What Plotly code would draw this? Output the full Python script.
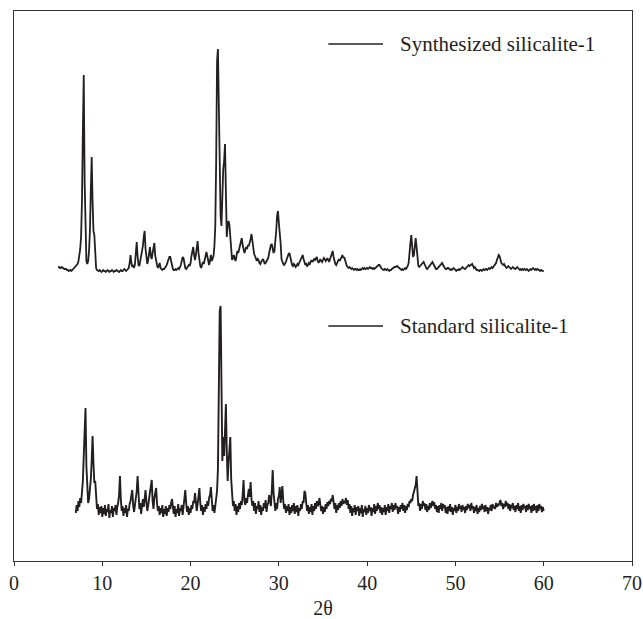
import numpy as np
import plotly.graph_objects as go

# 2-theta sampling (degrees)
synth_start, synth_step = 5.0, 0.1
std_start, std_step = 7.0, 0.1

# Synthesized silicalite-1 intensities (arbitrary units, offset pattern), 5.0 .. 60.0
synth_y = [
    294, 294, 293, 293, 294, 293, 293, 292, 292, 292,
    291, 291, 290, 291, 291, 290, 291, 292, 293, 295,
    295, 296, 297, 300, 305, 312, 325, 360, 430, 486,
    380, 315, 300, 297, 300, 310, 330, 370, 404, 360,
    330, 326, 300, 293, 291, 290, 290, 291, 290, 289,
    290, 291, 290, 290, 289, 290, 291, 290, 289, 290,
    290, 291, 290, 289, 290, 290, 291, 290, 290, 289,
    290, 291, 290, 290, 291, 292, 291, 290, 291, 292,
    293, 298, 306, 298, 294, 296, 293, 297, 305, 319,
    305, 296, 295, 300, 302, 306, 315, 325, 330, 312,
    300, 297, 301, 308, 314, 305, 302, 308, 315, 318,
    305, 299, 296, 293, 296, 298, 293, 292, 291, 292,
    292, 293, 294, 296, 299, 302, 304, 304, 299, 294,
    292, 291, 291, 292, 291, 292, 293, 292, 294, 296,
    300, 304, 303, 297, 293, 292, 293, 294, 296, 295,
    298, 305, 312, 314, 306, 301, 306, 315, 320, 308,
    298, 295, 293, 296, 299, 297, 300, 305, 309, 304,
    298, 296, 300, 306, 300, 303, 305, 315, 335, 400,
    500, 512, 440, 415, 345, 335, 375, 392, 400, 417,
    370, 324, 335, 340, 336, 325, 310, 301, 303, 306,
    302, 300, 305, 310, 308, 312, 318, 322, 323, 316,
    310, 308, 311, 314, 312, 316, 315, 318, 322, 327,
    318, 310, 307, 305, 303, 300, 302, 301, 298, 297,
    299, 301, 302, 300, 297, 298, 300, 301, 303, 308,
    313, 316, 317, 312, 308, 310, 318, 330, 345, 350,
    338, 330, 318, 302, 299, 297, 296, 297, 299, 302,
    305, 307, 308, 303, 298, 296, 295, 297, 296, 294,
    295, 297, 296, 298, 300, 302, 304, 306, 302, 298,
    296, 297, 295, 296, 298, 297, 299, 301, 299, 300,
    302, 301, 303, 304, 300, 298, 300, 302, 300, 299,
    301, 303, 302, 300, 301, 303, 301, 299, 302, 305,
    308, 310, 304, 298, 297, 296, 298, 301, 302, 300,
    302, 305, 306, 303, 304, 301, 297, 295, 294, 293,
    294, 293, 292, 293, 292, 291, 292, 292, 291, 292,
    291, 291, 292, 291, 292, 293, 292, 293, 292, 293,
    293, 292, 293, 294, 293, 293, 292, 293, 292, 293,
    293, 294, 295, 296, 296, 294, 293, 292, 291, 291,
    292, 291, 291, 292, 291, 290, 291, 291, 292, 293,
    293, 294, 294, 295, 295, 294, 293, 292, 292, 291,
    292, 291, 292, 293, 292, 293, 295, 298, 305, 318,
    326, 315, 304, 306, 316, 323, 314, 300, 295, 294,
    295, 296, 297, 298, 299, 297, 294, 293, 292, 293,
    294, 295, 296, 297, 299, 297, 295, 293, 292, 292,
    293, 294, 296, 297, 298, 298, 296, 294, 293, 292,
    292, 293, 293, 292, 291, 292, 291, 292, 293, 292,
    291, 290, 291, 291, 292, 291, 292, 293, 294, 293,
    292, 292, 293, 294, 295, 296, 295, 296, 297, 297,
    295, 293, 294, 292, 291, 291, 290, 290, 291, 291,
    290, 291, 292, 291, 292, 292, 291, 292, 293, 292,
    293, 294, 293, 294, 295, 296, 298, 301, 304, 306,
    305, 300, 298, 297, 296, 297, 295, 294, 293, 294,
    295, 294, 293, 292, 293, 294, 293, 292, 292, 293,
    294, 293, 292, 291, 292, 291, 292, 291, 292, 291,
    291, 292, 291, 290, 291, 292, 291, 292, 293, 292,
    291, 292, 291, 292, 291, 290, 290, 291, 290, 290,
    290,
]

# Standard silicalite-1 intensities (arbitrary units), 7.0 .. 60.0
std_y = [
    48, 56, 50, 60, 54, 63, 58, 70, 80, 105,
    125, 153, 95, 64, 58, 62, 70, 82, 100, 125,
    98, 78, 80, 60, 52, 57, 46, 54, 48, 55,
    44, 53, 47, 56, 45, 52, 49, 57, 43, 51,
    48, 55, 44, 53, 50, 56, 46, 54, 58, 66,
    85, 62, 50, 55, 45, 53, 48, 56, 44, 52,
    50, 57, 60, 66, 71, 55, 49, 56, 62, 70,
    85, 60, 52, 58, 47, 55, 62, 54, 66, 71,
    58, 50, 56, 62, 70, 78, 81, 60, 52, 63,
    68, 73, 58, 50, 55, 46, 53, 48, 56, 44,
    52, 47, 55, 45, 53, 49, 56, 52, 58, 62,
    54, 47, 55, 44, 52, 48, 57, 45, 53, 50,
    56, 46, 54, 60, 71, 58, 49, 55, 46, 53,
    48, 56, 52, 60, 58, 68, 55, 50, 57, 64,
    73, 58, 50, 56, 46, 54, 49, 57, 52, 60,
    55, 63, 66, 74, 58, 50, 56, 48, 55, 62,
    70, 92, 180, 250, 255, 170, 100, 124, 105, 130,
    157, 110, 80, 98, 115, 124, 82, 62, 55, 60,
    50, 57, 46, 55, 49, 58, 52, 60, 56, 66,
    81, 60, 56, 63, 58, 66, 72, 64, 79, 62,
    55, 60, 50, 58, 47, 55, 52, 60, 49, 56,
    46, 54, 50, 58, 53, 61, 49, 56, 58, 66,
    60, 55, 70, 91, 68, 56, 50, 58, 52, 62,
    65, 74, 58, 66, 75, 60, 52, 57, 48, 55,
    50, 57, 46, 54, 48, 56, 50, 58, 47, 55,
    49, 56, 45, 53, 50, 57, 52, 60, 58, 70,
    68, 58, 50, 56, 47, 54, 49, 57, 46, 55,
    50, 58, 52, 60, 55, 57, 63, 56, 50, 55,
    47, 54, 49, 57, 52, 59, 55, 60, 57, 62,
    60, 66, 56, 52, 58, 48, 56, 51, 58, 53,
    60, 55, 62, 57, 60, 58, 63, 56, 61, 52,
    57, 48, 55, 45, 53, 49, 56, 46, 54, 50,
    55, 45, 53, 48, 56, 44, 52, 49, 55, 46,
    53, 48, 56, 50, 54, 45, 53, 49, 57, 47,
    55, 50, 58, 52, 56, 48, 54, 46, 53, 49,
    56, 46, 54, 50, 57, 48, 55, 52, 58, 49,
    56, 51, 58, 53, 55, 47, 54, 49, 56, 52,
    58, 50, 56, 48, 55, 51, 57, 54, 60, 58,
    62, 60, 66, 70, 72, 76, 85, 68, 55, 58,
    50, 57, 52, 60, 55, 58, 51, 57, 49, 55,
    51, 58, 53, 57, 60, 55, 59, 52, 56, 49,
    55, 48, 56, 52, 58, 50, 57, 53, 56, 48,
    54, 47, 55, 50, 57, 49, 54, 46, 53, 50,
    56, 48, 54, 50, 57, 52, 55, 49, 56, 51,
    54, 48, 55, 51, 57, 53, 56, 50, 58, 52,
    55, 48, 54, 50, 56, 47, 53, 49, 55, 51,
    57, 52, 55, 49, 56, 50, 54, 47, 53, 51,
    56, 50, 57, 53, 55, 52, 58, 54, 57, 56,
    60, 61, 55, 58, 52, 57, 54, 60, 55, 58,
    52, 57, 50, 56, 53, 58, 51, 55, 49, 56,
    52, 58, 50, 55, 48, 56, 51, 57, 53, 55,
    49, 56, 51, 57, 52, 55, 48, 56, 50, 57,
    51, 55, 48, 56, 50, 57, 52, 55, 49, 54,
    50,
]

series_names = ["Synthesized silicalite-1", "Standard silicalite-1"]
x_ticks = [0, 10, 20, 30, 40, 50, 60, 70]
x_title = "2θ"

synth_x = synth_start + synth_step * np.arange(len(synth_y))
std_x = std_start + std_step * np.arange(len(std_y))

FONT = "Liberation Serif, Times New Roman, serif"
INK = "#231f20"

fig = go.Figure()
fig.add_trace(go.Scatter(x=synth_x, y=synth_y, mode="lines", name=series_names[0],
                         line=dict(color=INK, width=1.8), showlegend=False))
fig.add_trace(go.Scatter(x=std_x, y=std_y, mode="lines", name=series_names[1],
                         line=dict(color=INK, width=1.9), showlegend=False))

# legend-like labels placed inside the frame
legend_rows = [(series_names[0], 517), (series_names[1], 235)]
for label, yv in legend_rows:
    fig.add_shape(type="line", xref="x", yref="y", x0=35.6, x1=41.8, y0=yv, y1=yv,
                  line=dict(color=INK, width=1.3))
    fig.add_annotation(x=43.5, y=yv, xref="x", yref="y", text=label, showarrow=False,
                       xanchor="left", yanchor="middle",
                       font=dict(family=FONT, size=21, color=INK))

fig.update_layout(
    width=643, height=619,
    margin=dict(l=14, r=11, t=11, b=58, autoexpand=False),
    paper_bgcolor="white", plot_bgcolor="white",
    font=dict(family=FONT, size=20, color=INK),
    xaxis=dict(range=[0, 70], tickvals=x_ticks, ticktext=[str(t) for t in x_ticks],
               ticks="outside", ticklen=4, tickcolor="#333", tickwidth=1.2,
               showline=True, linecolor="#333", linewidth=1.2, mirror=True,
               showgrid=False, zeroline=False,
               tickfont=dict(family=FONT, size=20, color=INK),
               title=dict(text=x_title, standoff=14, font=dict(family=FONT, size=20, color=INK)),
               automargin=False),
    yaxis=dict(range=[0, 550], showticklabels=False, ticks="",
               showline=True, linecolor="#333", linewidth=1.2, mirror=True,
               showgrid=False, zeroline=False, automargin=False),
)

# remove the default page margin so the 643x619 figure fills the window exactly
fig.write_html("out.html",
               config={"displayModeBar": False},
               post_script="document.body.style.margin='0';document.body.style.overflow='hidden';")
